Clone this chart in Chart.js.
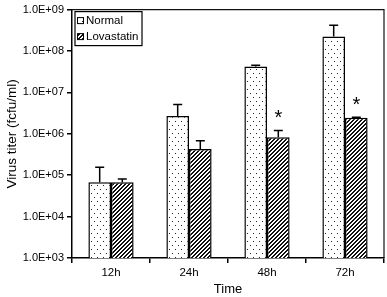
<!DOCTYPE html>
<html>
<head>
<meta charset="utf-8">
<script src="https://cdn.jsdelivr.net/npm/chart.js@4/dist/chart.umd.min.js"></script>
<style>
html,body{margin:0;padding:0;background:#fff;}
#wrap{width:387px;height:297px;position:relative;}
</style>
</head>
<body>
<div id="wrap"><canvas id="c"></canvas></div>
<script>
const categories = ['12h', '24h', '48h', '72h'];
const normalValues = [6.8e4, 2.7e6, 4.2e7, 2.25e8];
const normalUpper = [1.55e5, 5.1e6, 4.5e7, 4.2e8];
const lovastatinValues = [6.8e4, 4.3e5, 8.3e5, 2.45e6];
const lovastatinUpper = [8.1e4, 6.8e5, 1.2e6, 2.5e6];
const lovastatinSignificant = [false, false, true, true];
const yTickValues = [1e3, 1e4, 1e5, 1e6, 1e7, 1e8, 1e9];
const seriesNames = ['Normal', 'Lovastatin'];

const FONT = "'Liberation Sans', Arial, sans-serif";
const ctx0 = document.getElementById('c').getContext('2d');

function makeDots() {
  const c = document.createElement('canvas'); c.width = 6; c.height = 8;
  const g = c.getContext('2d');
  g.fillStyle = '#fff'; g.fillRect(0, 0, 6, 8);
  g.fillStyle = '#222';
  g.fillRect(1, 1, 1, 1); g.fillRect(4, 5, 1, 1);
  return ctx0.createPattern(c, 'repeat');
}
function makeHatch() {
  const c = document.createElement('canvas'); c.width = 4; c.height = 4;
  const g = c.getContext('2d');
  g.fillStyle = '#fff'; g.fillRect(0, 0, 4, 4);
  g.fillStyle = '#111';
  for (let x = 0; x < 4; x++) for (let y = 0; y < 4; y++) {
    const m = (x + y) % 4; if (m === 0 || m === 1) g.fillRect(x, y, 1, 1);
  }
  return ctx0.createPattern(c, 'repeat');
}
const dots = makeDots();
const hatch = makeHatch();

const extras = {
  id: 'extras',
  afterDatasetsDraw(chart) {
    const ctx = chart.ctx, ca = chart.chartArea, y = chart.scales.y;
    const uppers = [normalUpper, lovastatinUpper];
    ctx.save();
    ctx.strokeStyle = '#000'; ctx.lineWidth = 1.5;
    [0, 1].forEach(di => {
      const meta = chart.getDatasetMeta(di);
      meta.data.forEach((bar, i) => {
        const x = bar.x;
        const yt = y.getPixelForValue(uppers[di][i]);
        ctx.beginPath();
        ctx.moveTo(x, bar.y); ctx.lineTo(x, yt);
        ctx.moveTo(x - 4.5, yt); ctx.lineTo(x + 4.5, yt);
        ctx.stroke();
        if (di === 1 && lovastatinSignificant[i]) {
          ctx.fillStyle = '#000';
          ctx.font = '20px ' + FONT;
          ctx.textAlign = 'center'; ctx.textBaseline = 'middle';
          ctx.fillText('*', x, yt - 12);
        }
      });
    });
    // frame top and right
    ctx.lineWidth = 1.2; ctx.strokeStyle = '#111';
    ctx.beginPath();
    ctx.moveTo(ca.left, ca.top); ctx.lineTo(ca.right, ca.top); ctx.lineTo(ca.right, ca.bottom);
    ctx.stroke();
    // legend
    const lx = ca.left + 3, ly = ca.top + 2, lw = 67, lh = 34;
    ctx.fillStyle = '#fff'; ctx.fillRect(lx, ly, lw, lh);
    ctx.lineWidth = 1.2; ctx.strokeStyle = '#000';
    ctx.strokeRect(lx, ly, lw, lh);
    const pats = [dots, hatch];
    ctx.font = '11.5px ' + FONT;
    ctx.textAlign = 'left'; ctx.textBaseline = 'middle';
    seriesNames.forEach((name, k) => {
      const cy = ly + 9 + k * 16;
      ctx.fillStyle = pats[k];
      ctx.fillRect(lx + 2.5, cy - 3, 6, 6);
      ctx.lineWidth = 1; ctx.strokeRect(lx + 2.5, cy - 3, 6, 6);
      ctx.fillStyle = '#000';
      ctx.fillText(name, lx + 11, cy + 0.5);
    });
    ctx.restore();
  }
};

new Chart(ctx0, {
  type: 'bar',
  data: {
    labels: categories,
    datasets: [
      { label: seriesNames[0], data: normalValues, backgroundColor: dots, borderColor: '#000', borderWidth: 1.5, borderSkipped: 'bottom' },
      { label: seriesNames[1], data: lovastatinValues, backgroundColor: hatch, borderColor: '#000', borderWidth: 1.5, borderSkipped: 'bottom' }
    ]
  },
  options: {
    responsive: true,
    maintainAspectRatio: false,
    animation: false,
    devicePixelRatio: 1,
    datasets: { bar: { categoryPercentage: 0.58, barPercentage: 1.0 } },
    layout: { padding: { top: 5, right: 3, left: 0, bottom: 0 } },
    plugins: { legend: { display: false }, tooltip: { enabled: false } },
    scales: {
      x: {
        offset: true,
        grid: { offset: true, drawOnChartArea: false, drawTicks: true, tickLength: 5, color: '#000', lineWidth: 1.5 },
        border: { display: true, color: '#000', width: 1.5 },
        ticks: { color: '#000', font: { family: FONT, size: 11.5 }, padding: 3 },
        title: { display: true, text: 'Time', color: '#000', font: { family: FONT, size: 13 }, padding: { top: 2, bottom: 0 } },
        afterFit(s) { s.height = 39; }
      },
      y: {
        type: 'logarithmic',
        min: 1e3, max: 1e9,
        afterBuildTicks(s) { s.ticks = yTickValues.map(v => ({ value: v, major: true })); },
        grid: { drawOnChartArea: false, drawTicks: true, tickLength: 5, color: '#000', lineWidth: 1.5 },
        border: { display: true, color: '#000', width: 1.5 },
        ticks: {
          color: '#000', font: { family: FONT, size: 11 }, padding: 3, autoSkip: false,
          callback(v) { const e = Math.round(Math.log10(v)); return '1.0E+' + (e < 10 ? '0' : '') + e; }
        },
        title: { display: true, text: 'Virus titer (fcfu/ml)', color: '#000', font: { family: FONT, size: 13.5 }, padding: { top: 4, bottom: 4 } },
        afterFit(s) { s.width = 72; }
      }
    }
  },
  plugins: [extras]
});
</script>
</body>
</html>
